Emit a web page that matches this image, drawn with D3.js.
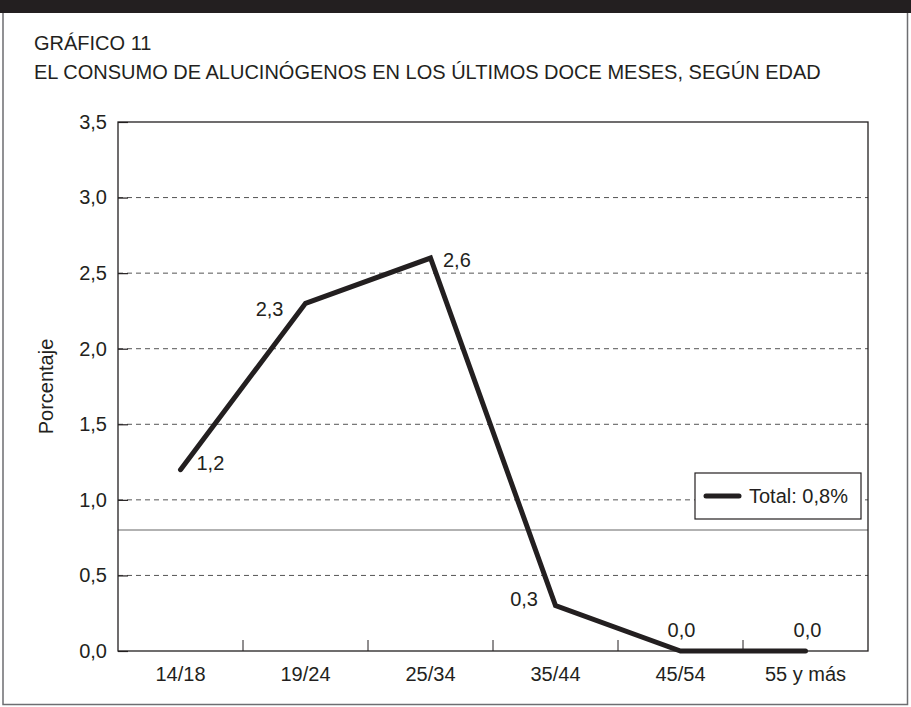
<!DOCTYPE html>
<html><head><meta charset="utf-8">
<script src="https://cdn.jsdelivr.net/npm/d3@7"></script>
<style>
body{margin:0;background:#fff;}
svg text{font-family:"Liberation Sans",Arial,sans-serif;fill:#231f20;}
</style></head>
<body><svg id="c" width="911" height="707"></svg>
<script>
const categories = ["14/18","19/24","25/34","35/44","45/54","55 y más"];
const values = [1.2, 2.3, 2.6, 0.3, 0.0, 0.0];
const valueLabels = ["1,2","2,3","2,6","0,3","0,0","0,0"];
const yTicks = [0,0.5,1.0,1.5,2.0,2.5,3.0,3.5];
const yTickLabels = ["0,0","0,5","1,0","1,5","2,0","2,5","3,0","3,5"];
const totalValue = 0.8;
const totalLabel = "Total: 0,8%";
const titleLines = ["GRÁFICO 11","EL CONSUMO DE ALUCINÓGENOS EN LOS ÚLTIMOS DOCE MESES, SEGÚN EDAD"];
const yTitle = "Porcentaje";

const svg = d3.select("#c");
const W=911,H=707;
const m={left:118,right:868,top:122,bottom:651};
const ink="#231f20";
const fs=20;

// frame
svg.append("rect").attr("x",3).attr("y",1).attr("width",904.5).attr("height",703.5)
  .attr("fill","none").attr("stroke","#6d6e71").attr("stroke-width",1.5);
svg.append("rect").attr("x",0).attr("y",0).attr("width",W).attr("height",13).attr("fill",ink);

// titles
svg.selectAll("text.title").data(titleLines).join("text").attr("class","title")
  .attr("x",34).attr("y",(d,i)=>50+i*29).attr("font-size",fs).text(d=>d);

const x=d3.scaleBand().domain(categories).range([m.left,m.right]);
const y=d3.scaleLinear().domain([0,3.5]).range([m.bottom,m.top]);

// grid
svg.append("g").selectAll("line").data(yTicks.filter(t=>t>0&&t<3.5)).join("line")
  .attr("x1",m.left).attr("x2",m.right).attr("y1",d=>y(d)).attr("y2",d=>y(d))
  .attr("stroke","#555").attr("stroke-width",1).attr("stroke-dasharray","5,4");

// total line
svg.append("line").attr("x1",m.left).attr("x2",m.right).attr("y1",y(totalValue)).attr("y2",y(totalValue))
  .attr("stroke","#999").attr("stroke-width",1.5);

// y axis
const yAxis=d3.axisLeft(y).tickValues(yTicks).tickSize(-10).tickPadding(11)
  .tickFormat((d,i)=>yTickLabels[i]);
const gy=svg.append("g").attr("transform",`translate(${m.left},0)`).call(yAxis);
gy.select(".domain").remove();
gy.selectAll("line").attr("stroke",ink).attr("stroke-width",1.2);
gy.selectAll("text").attr("font-size",fs).attr("fill",ink).attr("font-family","Liberation Sans, Arial, sans-serif");

// x axis
const xAxis=d3.axisBottom(x).tickSize(0).tickPadding(16);
const gx=svg.append("g").attr("transform",`translate(0,${m.bottom})`).call(xAxis);
gx.select(".domain").remove();
gx.selectAll("text").attr("font-size",fs).attr("fill",ink).attr("font-family","Liberation Sans, Arial, sans-serif");
// x boundary ticks
svg.append("g").selectAll("line").data(categories.slice(1)).join("line")
  .attr("x1",d=>x(d)).attr("x2",d=>x(d)).attr("y1",m.bottom).attr("y2",m.bottom-11)
  .attr("stroke",ink).attr("stroke-width",1);

// plot frame
svg.append("rect").attr("x",m.left).attr("y",m.top).attr("width",m.right-m.left).attr("height",m.bottom-m.top)
  .attr("fill","none").attr("stroke",ink).attr("stroke-width",1.3);

// y title
svg.append("text").attr("transform",`translate(53,${(m.top+m.bottom)/2}) rotate(-90)`)
  .attr("text-anchor","middle").attr("font-size",fs).text(yTitle);

// data line
const line=d3.line().x((d,i)=>x(categories[i])+x.bandwidth()/2).y(d=>y(d));
svg.append("path").datum(values).attr("d",line).attr("fill","none")
  .attr("stroke",ink).attr("stroke-width",5).attr("stroke-linecap","round").attr("stroke-linejoin","miter");

// value labels
const offs=[[16,0,"start"],[-22,13,"end"],[12.5,9,"start"],[-17.5,0,"end"],[1,-14,"middle"],[2,-14,"middle"]];
svg.append("g").selectAll("text").data(values).join("text")
  .attr("x",(d,i)=>x(categories[i])+x.bandwidth()/2+offs[i][0])
  .attr("y",(d,i)=>y(d)+offs[i][1])
  .attr("text-anchor",(d,i)=>offs[i][2]).attr("font-size",fs).text((d,i)=>valueLabels[i]);

// legend
const lg=svg.append("g");
lg.append("rect").attr("x",695).attr("y",473).attr("width",166).attr("height",46)
  .attr("fill","#fff").attr("stroke",ink).attr("stroke-width",1.2);
lg.append("line").attr("x1",706).attr("x2",739).attr("y1",496).attr("y2",496)
  .attr("stroke",ink).attr("stroke-width",5).attr("stroke-linecap","round");
lg.append("text").attr("x",749).attr("y",503).attr("font-size",fs).text(totalLabel);
</script></body></html>
